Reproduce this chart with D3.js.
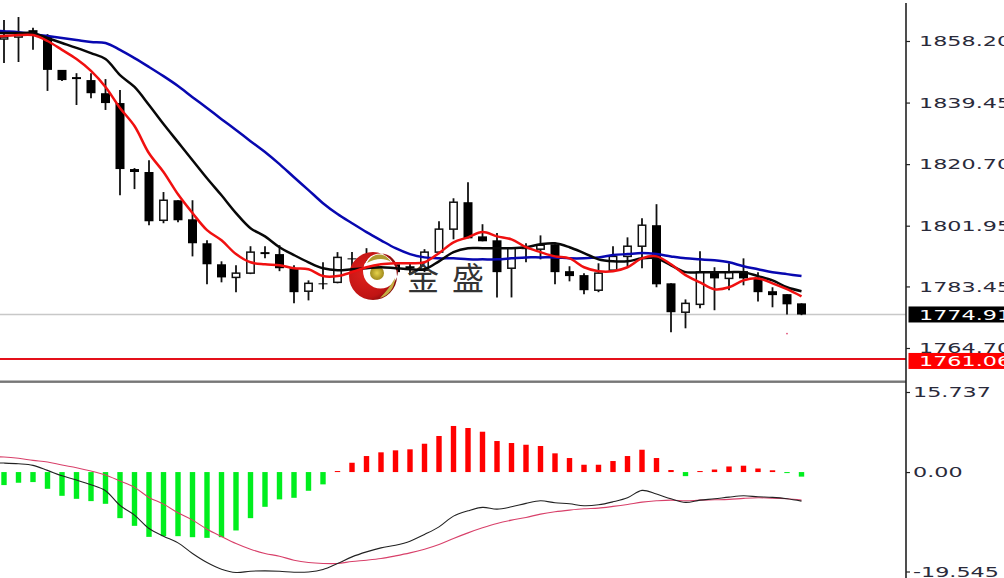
<!DOCTYPE html>
<html><head><meta charset="utf-8">
<style>html,body{margin:0;padding:0;background:#fff;overflow:hidden;width:1004px;height:578px}svg{display:block}</style>
<script src="https://cdn.jsdelivr.net/npm/d3@7/dist/d3.min.js"></script>
</head><body><svg id="c" width="1004" height="578"></svg>
<script>
const opens=[1858.8,1859.4,1861.5,1859.4,1849.4,1847.2,1846.3,1842.3,1839.3,1819.2,1818.3,1803.6,1809.7,1803.9,1796.6,1790.2,1786.2,1787.5,1793.9,1793.3,1789.0,1782.0,1784.4,1784.7,1792.0,1788.4,1789.6,1790.2,1789.6,1788.4,1793.9,1800.9,1809.1,1798.7,1797.5,1789.0,1795.1,1794.8,1796.3,1788.1,1786.9,1782.3,1788.4,1792.6,1795.7,1802.1,1784.4,1775.6,1778.0,1787.8,1785.9,1788.1,1785.9,1782.0,1781.1,1778.3];
const closes=[1859.4,1860.0,1860.6,1849.4,1846.3,1846.6,1842.3,1839.3,1819.2,1818.3,1803.3,1809.7,1803.6,1796.6,1790.2,1786.2,1787.5,1793.9,1793.3,1789.0,1781.7,1784.4,1784.1,1792.3,1791.7,1790.8,1789.0,1787.8,1789.0,1793.9,1800.9,1809.1,1798.1,1797.2,1787.8,1795.1,1794.8,1796.0,1787.8,1786.6,1782.3,1787.5,1792.6,1795.7,1802.1,1784.1,1775.6,1778.3,1787.8,1785.9,1787.8,1785.9,1781.7,1780.8,1778.0,1774.9];
const highs=[1864.6,1865.5,1862.2,1860.3,1849.4,1848.4,1848.4,1846.6,1843.3,1819.5,1821.9,1812.2,1809.7,1809.7,1797.5,1791.1,1789.9,1795.7,1795.7,1796.0,1789.9,1785.3,1790.8,1793.9,1793.9,1795.1,1790.8,1790.8,1790.5,1794.8,1803.3,1810.3,1815.2,1802.4,1799.7,1795.4,1796.6,1799.0,1796.3,1789.6,1787.5,1790.5,1795.7,1798.4,1804.2,1808.5,1784.4,1779.5,1794.2,1789.3,1790.5,1792.0,1787.8,1783.2,1781.1,1778.3];
const lows=[1851.5,1851.8,1855.5,1843.0,1846.0,1838.7,1840.8,1837.2,1811.2,1813.1,1802.1,1802.7,1803.0,1792.6,1784.1,1784.7,1781.7,1787.2,1792.0,1788.1,1778.3,1779.2,1782.6,1784.4,1787.8,1786.6,1787.8,1786.6,1786.9,1787.8,1793.9,1797.8,1798.1,1797.2,1780.1,1780.1,1790.8,1791.7,1784.1,1785.0,1781.1,1781.7,1788.4,1789.6,1789.0,1783.2,1769.5,1770.7,1776.8,1776.2,1782.3,1783.8,1778.9,1777.1,1774.9,1774.7];
// moving averages: first entry is the bar just left of the visible window
const maBlue=[1861.5,1861.2,1860.9,1860.3,1859.7,1859.1,1858.5,1857.9,1857.6,1855.5,1853.0,1850.3,1847.5,1844.5,1841.1,1837.8,1834.4,1831.1,1827.7,1824.4,1820.7,1816.7,1812.8,1808.8,1805.5,1802.7,1800.0,1797.5,1795.1,1793.3,1792.3,1792.0,1792.0,1791.7,1791.7,1791.7,1792.0,1792.3,1792.3,1792.3,1792.0,1792.0,1792.3,1793.0,1793.3,1793.6,1793.3,1792.6,1792.0,1791.7,1791.4,1790.8,1789.6,1788.7,1787.8,1787.2,1786.6];
const maBlack=[1860.6,1860.6,1860.6,1860.6,1859.1,1857.6,1856.1,1854.5,1852.7,1847.8,1844.2,1838.7,1832.9,1827.4,1821.9,1816.4,1811.2,1805.8,1801.2,1798.7,1795.4,1793.0,1790.8,1789.0,1788.4,1788.7,1789.0,1789.3,1789.0,1788.7,1788.7,1791.1,1793.9,1795.1,1795.1,1795.1,1795.1,1795.4,1796.3,1796.6,1795.4,1793.6,1791.7,1791.1,1791.1,1792.0,1792.0,1789.9,1787.8,1787.8,1787.8,1787.8,1787.8,1786.6,1785.3,1783.2,1782.0];
const maRed=[1859.7,1859.7,1860.0,1860.0,1858.2,1855.5,1852.7,1849.1,1844.2,1837.8,1832.3,1824.0,1818.3,1811.5,1805.8,1800.6,1797.5,1793.3,1790.8,1790.2,1789.9,1789.0,1788.7,1786.6,1786.6,1787.8,1789.3,1790.2,1790.5,1790.5,1790.8,1793.6,1796.9,1798.4,1800.0,1798.7,1797.8,1795.4,1793.9,1792.6,1792.0,1789.3,1788.1,1788.1,1789.3,1792.0,1792.6,1790.2,1786.9,1784.7,1782.6,1783.2,1785.3,1785.9,1784.4,1782.6,1780.4];
const histogram=[-2.56,-2.1,-1.97,-3.29,-4.67,-5.26,-5.71,-6.24,-9.06,-10.57,-12.74,-12.6,-12.6,-12.8,-12.93,-12.8,-11.48,-9.06,-6.83,-5.37,-5.06,-3.68,-2.42,0.2,1.83,3.15,3.88,4.27,4.47,5.57,7.09,9.06,8.66,7.93,6.1,5.71,5.37,5.12,3.68,2.76,1.44,1.44,2.17,3.15,4.39,2.76,0.4,-0.8,0.2,0.5,1.1,1.25,0.7,0.35,-0.2,-0.9];
const macdLine=[1.83,1.77,1.63,1.32,0.33,-0.73,-1.57,-2.5,-3.68,-6.56,-8.46,-11.08,-12.6,-13.92,-16.0,-17.78,-19.09,-19.74,-19.49,-19.43,-19.49,-19.69,-19.63,-19.15,-17.97,-16.67,-15.69,-14.9,-14.37,-13.58,-12.26,-10.77,-8.66,-7.62,-6.95,-7.28,-6.83,-6.16,-5.65,-6.04,-6.24,-6.63,-6.44,-5.85,-5.06,-3.6,-4.33,-5.26,-5.96,-5.51,-5.26,-4.92,-4.67,-4.86,-4.98,-5.26,-5.71];
const signalLine=[3.01,2.95,2.7,2.3,1.97,1.38,0.85,0.2,-0.59,-1.77,-3.01,-4.98,-6.3,-8.01,-9.45,-11.22,-12.66,-14.04,-15.16,-16.0,-16.54,-17.32,-17.78,-17.97,-17.97,-17.58,-17.32,-16.99,-16.48,-15.89,-15.16,-14.23,-13.05,-11.95,-10.96,-10.1,-9.45,-8.92,-8.27,-7.81,-7.48,-7.22,-7.09,-6.75,-6.36,-5.91,-5.65,-5.51,-5.65,-5.51,-5.45,-5.37,-5.18,-5.06,-5.12,-5.26,-5.51];
const priceTicks=[1858.20,1839.45,1820.70,1801.95,1783.45,1764.70];
const macdTicks=[15.737,0,-19.545];
const macdTickLabels=["15.737","0.00","-19.545"];
const lastPrice=1774.91, alertPrice=1761.06, strayMark=1769.1;
const brandChars=["金","盛"];

const svg=d3.select("#c");
const x=d3.scaleLinear().domain([0,55]).range([4,801.5]);
const yP=d3.scaleLinear().domain([1858.2,1764.7]).range([41,348]);
const yM=d3.scaleLinear().domain([15.737,-19.545]).range([392,571.5]);
const plotW=906;

// reference lines
svg.append("line").attr("x1",0).attr("x2",plotW).attr("y1",yP(lastPrice)).attr("y2",yP(lastPrice)).attr("stroke","#c8c8c8").attr("stroke-width",1.4);
svg.append("line").attr("x1",0).attr("x2",plotW).attr("y1",yP(alertPrice)).attr("y2",yP(alertPrice)).attr("transform","translate(0,-0.9)").attr("stroke","#e4101a").attr("stroke-width",2);

// candles
const g=svg.append("g");
const idx=d3.range(opens.length);
g.selectAll("line.w").data(idx).join("line").attr("class","w")
 .attr("x1",x).attr("x2",x).attr("y1",i=>yP(highs[i])).attr("y2",i=>yP(lows[i]))
 .attr("stroke","#111").attr("stroke-width",1.8);
g.selectAll("rect.b").data(idx).join("rect").attr("class","b")
 .attr("x",i=>x(i)-(closes[i]<opens[i]?4.5:3.7))
 .attr("width",i=>closes[i]<opens[i]?9:7.4)
 .attr("y",i=>yP(Math.max(opens[i],closes[i])))
 .attr("height",i=>Math.max(1,Math.abs(yP(opens[i])-yP(closes[i]))))
 .attr("fill",i=>closes[i]<opens[i]?"#000":"#fff")
 .attr("stroke",i=>closes[i]<opens[i]?"none":"#111").attr("stroke-width",1.5);
svg.append("circle").attr("cx",x(54)).attr("cy",yP(strayMark)).attr("r",0.9).attr("fill","#e0507a");

// watermark
const defs=svg.append("defs");
const lg=defs.append("radialGradient").attr("id","rg").attr("cx","35%").attr("cy","45%").attr("r","70%");
lg.append("stop").attr("offset","0%").attr("stop-color","#e0201c");
lg.append("stop").attr("offset","70%").attr("stop-color","#c01414");
lg.append("stop").attr("offset","100%").attr("stop-color","#6a0808");
const gold=defs.append("radialGradient").attr("id","gg");
gold.append("stop").attr("offset","0%").attr("stop-color","#e6d24a");
gold.append("stop").attr("offset","100%").attr("stop-color","#a08a1c");
const logo=svg.append("g").attr("transform","translate(373,276)");
logo.append("circle").attr("cx",7.5).attr("cy",-5).attr("r",17.5).attr("fill","#fff");
logo.append("path").attr("fill","url(#rg)").attr("fill-rule","evenodd")
 .attr("d","M-24,0a24,24 0 1,0 48,0a24,24 0 1,0 -48,0Z M-10,-5a17.5,17.5 0 1,0 35,0a17.5,17.5 0 1,0 -35,0Z");
logo.append("circle").attr("cx",4).attr("cy",-3).attr("r",7).attr("fill","url(#gg)");
logo.append("path").attr("fill","#b09a30").attr("d","M-6,-13C0,-24 12,-24 18,-14C10,-19 2,-17 -6,-13Z");
logo.append("path").attr("fill","#c4ae44").attr("d","M22,2C22,12 15,20 7,22C13,16 18,9 22,2Z");
svg.selectAll("text.brand").data(brandChars).join("text").attr("class","brand")
 .attr("x",(d,i)=>423+i*45).attr("y",290).attr("text-anchor","middle")
 .attr("font-family","'Noto Sans CJK SC'").attr("font-weight",400).attr("font-size",32).attr("fill","#333").text(d=>d);

// moving averages
const lineOf=(y)=>d3.line().x((d,i)=>x(i-1)).y(d=>y(d)).curve(d3.curveCatmullRom.alpha(0.5));
[[maBlue,"#0808b0"],[maBlack,"#080808"],[maRed,"#f01010"]].forEach(([s,c])=>{
 svg.append("path").datum(s).attr("d",lineOf(yP)).attr("fill","none").attr("stroke",c).attr("stroke-width",2.5);
});

// MACD pane
svg.selectAll("rect.h").data(histogram).join("rect").attr("class","h")
 .attr("x",(d,i)=>x(i)-2.7).attr("width",5.4)
 .attr("y",d=>d>0?yM(d):yM(0)).attr("height",d=>Math.abs(yM(d)-yM(0)))
 .attr("fill",d=>d>0?"#ff0000":"#00ee1e");
svg.append("path").datum(signalLine).attr("d",lineOf(yM)).attr("fill","none").attr("stroke","#d8406a").attr("stroke-width",1.1);
svg.append("path").datum(macdLine).attr("d",lineOf(yM)).attr("fill","none").attr("stroke","#222").attr("stroke-width",1.1);

// separator and axes
svg.append("rect").attr("x",0).attr("y",380.5).attr("width",plotW).attr("height",2.4).attr("fill","#777");
svg.append("line").attr("x1",906).attr("x2",906).attr("y1",3).attr("y2",578).attr("stroke","#222").attr("stroke-width",1.6);

function styleAxis(sel,shift){
 sel.select(".domain").remove();
 sel.selectAll(".tick line").attr("stroke","#222").attr("stroke-width",1.2);
 sel.selectAll(".tick text").attr("font-family","'DejaVu Sans'").attr("font-size",13.5).attr("fill","#2a2a3a")
  .attr("dy","0.36em")
  .attr("transform",function(){return `translate(${shift},0) scale(1.65,1)`;}).attr("x",0);
}
svg.append("g").attr("transform","translate(906,0)")
 .call(d3.axisRight(yP).tickValues(priceTicks).tickSize(4).tickFormat(d3.format(".2f")))
 .call(styleAxis,13);
svg.append("g").attr("transform","translate(906,0)")
 .call(d3.axisRight(yM).tickValues(macdTicks).tickSize(4).tickFormat((d,i)=>macdTickLabels[i]))
 .call(styleAxis,7);

// price flags
[[lastPrice,"#000"],[alertPrice,"#ff0000"]].forEach(([p,c])=>{
 const yy=yP(p);
 svg.append("rect").attr("x",908.5).attr("y",yy-(p===lastPrice?8:7)).attr("width",96).attr("height",16).attr("fill",c);
 svg.append("text").attr("transform",`translate(919,${yy+(p===lastPrice?0.5:1.5)}) scale(1.65,1)`).attr("dy","0.36em")
  .attr("font-family","'DejaVu Sans'").attr("font-size",13.5).attr("fill","#fff").text(p.toFixed(2));
});
</script></body></html>
